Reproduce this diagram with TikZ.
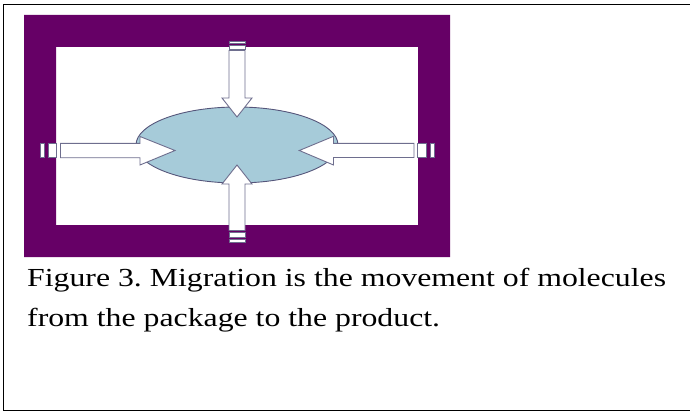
\documentclass[tikz,border=0pt]{standalone}
\usepackage{fontspec}
\setmainfont{Liberation Serif}
\newfontfamily\capfont[FakeStretch=1.222]{Liberation Serif}
\usetikzlibrary{shapes.geometric}
\frenchspacing
\definecolor{frame}{HTML}{660066}
\definecolor{blob}{HTML}{A6CBD9}
\definecolor{edge}{HTML}{55557A}
\definecolor{arredge}{HTML}{6E6E8E}
\tikzset{
  arrowshape/.style={draw=arredge, fill=white, line width=0.9pt, line join=miter},
  stripe/.style={draw=arredge, fill=white, line width=0.9pt},
  caption/.style={anchor=base west, inner sep=0pt, font=\capfont\fontsize{26}{30}\selectfont}
}
\begin{document}
\begin{tikzpicture}[x=1pt,y=-1pt]
\useasboundingbox (0,0) rectangle (690,412);
\clip (0,0) rectangle (690,412);
% outer border (open at the right)
\draw[line width=1.7pt] (700,4.5) -- (3.5,4.5) -- (3.5,410.5) -- (700,410.5);
% purple frame
\fill[frame, even odd rule] (24,15) rectangle (450,257) (56,47) rectangle (418,225);
% product
\node[ellipse, draw=edge, fill=blob, line width=0.9pt, minimum width=202pt, minimum height=76pt, inner sep=0pt] (prod) at (237,145) {};
% top arrow
\draw[arrowshape] (229,50.5) -- (245,50.5) -- (245,98) -- (252,98) -- (237,117) -- (222,98) -- (229,98) -- cycle;
\draw[stripe] (229,45) rectangle (245,49);
\draw[stripe] (229,41) rectangle (245,43.5);
% bottom arrow
\draw[arrowshape] (229,230.5) -- (245,230.5) -- (245,184) -- (252,184) -- (237,165) -- (222,184) -- (229,184) -- cycle;
\draw[stripe] (229,232) rectangle (245,237);
\draw[stripe] (229,239.5) rectangle (245,242.5);
% left arrow
\draw[arrowshape] (60.5,143.3) -- (140,143.3) -- (140,136.5) -- (175,150.5) -- (140,165) -- (140,157.7) -- (60.5,157.7) -- cycle;
\draw[stripe] (48.5,143.3) rectangle (56.5,157.7);
\draw[stripe] (40.8,143.3) rectangle (44,157.7);
% right arrow
\draw[arrowshape] (414,143.3) -- (333.5,143.3) -- (333.5,136.3) -- (299.3,150.5) -- (333.5,165) -- (333.5,157.5) -- (414,157.5) -- cycle;
\draw[stripe] (417.8,143.3) rectangle (426,157.5);
\draw[stripe] (430,143.3) rectangle (434,157.5);
% caption
\node[caption] (cap1) at (27,286.7) {Figure 3. Migration is the movement of molecules};
\node[caption] (cap2) at (27,326.7) {from the package to the product.};
\end{tikzpicture}
\end{document}
